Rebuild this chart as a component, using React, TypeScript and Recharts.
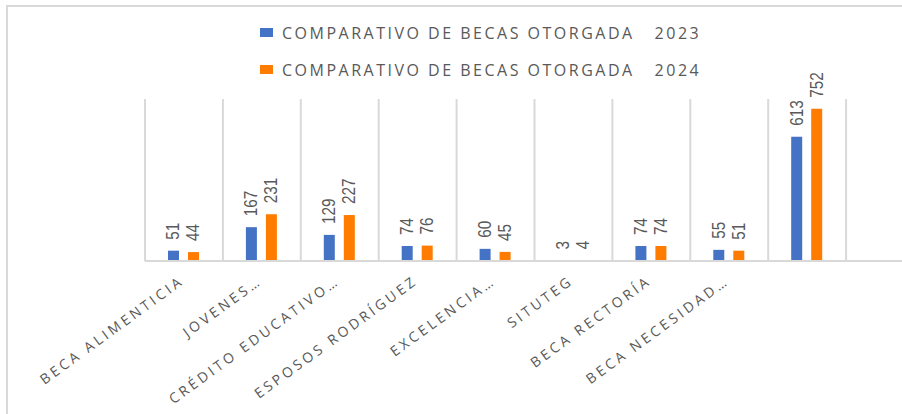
import React from 'react';
import { BarChart, Bar, XAxis, YAxis, CartesianGrid, Legend, LabelList } from 'recharts';

const categories = [
  'BECA ALIMENTICIA',
  'JOVENES…',
  'CRÉDITO EDUCATIVO…',
  'ESPOSOS RODRÍGUEZ',
  'EXCELENCIA…',
  'SITUTEG',
  'BECA RECTORÍA',
  'BECA NECESIDAD…',
  '',
  ' ',
];
const values2023 = [51, 167, 129, 74, 60, 3, 74, 55, 613, null];
const values2024 = [44, 231, 227, 76, 45, 4, 74, 51, 752, null];
const seriesNames = [
  'COMPARATIVO DE BECAS OTORGADA   2023',
  'COMPARATIVO DE BECAS OTORGADA   2024',
];
const seriesColors = ['#4472C4', '#FF7C00'];
const yDomain = [0, 800];

const data = categories.map((name, i) => ({
  name,
  v2023: values2023[i],
  v2024: values2024[i],
}));

const GRID = '#d9d9d9';
const TEXT = '#595959';

const CategoryTick = (props: any) => {
  const { x, y, payload } = props;
  const ax = x + 1;
  const ay = y + 22;
  return (
    <text
      x={ax}
      y={ay}
      transform={`rotate(-36 ${ax} ${ay})`}
      textAnchor="end"
      fill={TEXT}
      fontSize={14}
      fontFamily="'Open Sans', sans-serif"
      letterSpacing={3.2}
    >
      {payload.value}
    </text>
  );
};

const ValueLabel = (props: any) => {
  const { x, y, width, value } = props;
  if (value === null || value === undefined) return null;
  const cx = x + width / 2;
  const ty = y - 11;
  return (
    <text
      x={0}
      y={0}
      transform={`translate(${cx} ${ty}) rotate(-90) scale(0.85 1)`}
      textAnchor="start"
      dominantBaseline="central"
      fill={TEXT}
      fontSize={18}
      fontFamily="'Liberation Sans', Arial, sans-serif"
    >
      {value}
    </text>
  );
};

const LegendContent = () => (
  <div style={{ fontFamily: "'Open Sans', sans-serif", fontSize: 16, color: TEXT }}>
    {seriesNames.map((n, i) => (
      <div key={n} style={{ display: 'flex', alignItems: 'center', height: 37 }}>
        <span
          style={{
            display: 'inline-block',
            width: 13,
            height: 9,
            background: seriesColors[i],
            marginRight: 9,
          }}
        />
        <span style={{ whiteSpace: 'pre', letterSpacing: 2.5 }}>{n}</span>
      </div>
    ))}
  </div>
);

export default function App() {
  return (
    <div
      style={{
        position: 'absolute',
        left: 0,
        top: 0,
        width: 902,
        height: 414,
        overflow: 'hidden',
        background: '#fff',
      }}
    >
      <div
        style={{
          position: 'absolute',
          left: 6,
          top: 5,
          width: 1000,
          height: 600,
          borderLeft: `2px solid ${GRID}`,
          borderTop: `2px solid ${GRID}`,
        }}
      />
      <div style={{ position: 'absolute', left: 0, top: 0 }}>
        <BarChart
          width={940}
          height={414}
          data={data}
          margin={{ top: 99, right: 16, bottom: 0, left: 145 }}
          barSize={11}
          barGap={9}
        >
          <CartesianGrid
            horizontal={false}
            stroke={GRID}
            strokeWidth={2}
            verticalCoordinatesGenerator={({ offset }: any) =>
              categories.concat(['end']).map(
                (_c, i) => offset.left + (i * offset.width) / categories.length
              )
            }
          />
          <XAxis
            dataKey="name"
            interval={0}
            tickLine={false}
            tickSize={0}
            tickMargin={0}
            axisLine={{ stroke: GRID, strokeWidth: 2 }}
            height={153}
            tick={<CategoryTick />}
          />
          <YAxis hide domain={yDomain} />
          <Legend
            layout="vertical"
            align="center"
            verticalAlign="middle"
            wrapperStyle={{ left: 260, top: 14, width: 'auto' }}
            content={<LegendContent />}
          />
          <Bar dataKey="v2023" name={seriesNames[0]} fill={seriesColors[0]} isAnimationActive={false}>
            <LabelList dataKey="v2023" content={<ValueLabel />} />
          </Bar>
          <Bar dataKey="v2024" name={seriesNames[1]} fill={seriesColors[1]} isAnimationActive={false}>
            <LabelList dataKey="v2024" content={<ValueLabel />} />
          </Bar>
        </BarChart>
      </div>
    </div>
  );
}
